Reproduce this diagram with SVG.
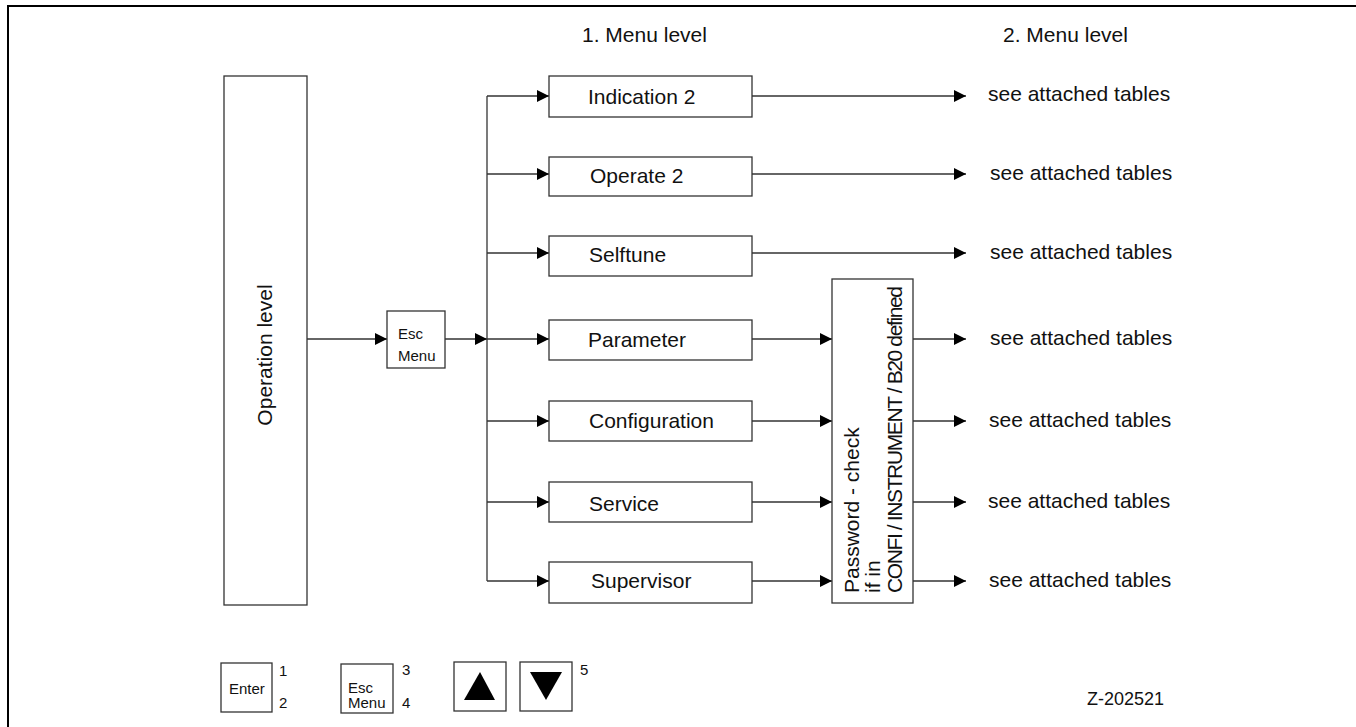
<svg xmlns="http://www.w3.org/2000/svg" width="1356" height="727" viewBox="0 0 1356 727">
<defs>
<marker id="ah" markerUnits="userSpaceOnUse" markerWidth="12" markerHeight="12" refX="12" refY="6" orient="auto">
<path d="M0,0 L12,6 L0,12 z" fill="#000"/>
</marker>
<style>
.b{fill:#fff;stroke:#333;stroke-width:1.3}
.c{fill:none;stroke:#333;stroke-width:1.3}
.a{fill:none;stroke:#333;stroke-width:1.3;marker-end:url(#ah)}
text{font-family:"Liberation Sans",Arial,Helvetica,sans-serif;fill:#111}
.t{font-size:21px}
.s{font-size:15px}
</style>
</defs>
<rect width="1356" height="727" fill="#fff"/>
<path d="M8,727 L8,6 L1356,6" fill="none" stroke="#000" stroke-width="2"/>
<text class="t" x="582" y="42">1. Menu level</text>
<text class="t" x="1003" y="42">2. Menu level</text>
<g id="connectors">
<path class="a" d="M307,339 H387"/>
<path class="a" d="M445,339 H487"/>
<path class="c" d="M487,96 V581"/>
<path class="a" d="M487,96 H549"/>
<path class="a" d="M487,174 H549"/>
<path class="a" d="M487,253 H549"/>
<path class="a" d="M487,339 H549"/>
<path class="a" d="M487,421 H549"/>
<path class="a" d="M487,502 H549"/>
<path class="a" d="M487,581 H549"/>
<path class="a" d="M752,96 H966"/>
<path class="a" d="M752,174 H966"/>
<path class="a" d="M752,253 H966"/>
<path class="a" d="M752,339 H832"/>
<path class="a" d="M752,421 H832"/>
<path class="a" d="M752,502 H832"/>
<path class="a" d="M752,581 H832"/>
<path class="a" d="M913,339 H966"/>
<path class="a" d="M913,421 H966"/>
<path class="a" d="M913,502 H966"/>
<path class="a" d="M913,581 H966"/>
</g>
<g id="operation-level">
<rect class="b" x="224" y="76" width="83" height="529"/>
<text class="t" text-anchor="middle" transform="translate(272,355) rotate(-90)">Operation level</text>
</g>
<g id="esc-menu">
<rect class="b" x="387" y="311" width="58" height="57"/>
<text class="s" x="398" y="339">Esc</text>
<text class="s" x="398" y="361">Menu</text>
</g>
<g id="indication2">
<rect class="b" x="549" y="76" width="203" height="41"/>
<text class="t" x="588" y="104">Indication 2</text>
</g>
<g id="operate2">
<rect class="b" x="549" y="157" width="203" height="39"/>
<text class="t" x="590" y="183">Operate 2</text>
</g>
<g id="selftune">
<rect class="b" x="549" y="236" width="203" height="40"/>
<text class="t" x="589" y="262">Selftune</text>
</g>
<g id="parameter">
<rect class="b" x="549" y="320" width="203" height="40"/>
<text class="t" x="588" y="347">Parameter</text>
</g>
<g id="configuration">
<rect class="b" x="549" y="401" width="203" height="40"/>
<text class="t" x="589" y="428">Configuration</text>
</g>
<g id="service">
<rect class="b" x="549" y="482" width="203" height="40"/>
<text class="t" x="589" y="511">Service</text>
</g>
<g id="supervisor">
<rect class="b" x="549" y="562" width="203" height="41"/>
<text class="t" x="591" y="588">Supervisor</text>
</g>
<g id="password-check">
<rect class="b" x="832" y="279" width="81" height="324"/>
<text class="t" transform="translate(859,593) rotate(-90)">Password - check</text>
<text class="t" transform="translate(880,593) rotate(-90)">if in</text>
<text class="t" transform="translate(902,593) rotate(-90)" textLength="307">CONFI / INSTRUMENT / B20 defined</text>
</g>
<g id="tables">
<text class="t" x="988" y="101">see attached tables</text>
<text class="t" x="990" y="180">see attached tables</text>
<text class="t" x="990" y="259">see attached tables</text>
<text class="t" x="990" y="345">see attached tables</text>
<text class="t" x="989" y="427">see attached tables</text>
<text class="t" x="988" y="508">see attached tables</text>
<text class="t" x="989" y="587">see attached tables</text>
</g>
<g id="key-enter">
<rect class="b" x="221" y="663" width="51" height="49"/>
<text class="s" x="229" y="694">Enter</text>
<text class="s" x="279" y="676">1</text>
<text class="s" x="279" y="708">2</text>
</g>
<g id="key-esc">
<rect class="b" x="341" y="664" width="52" height="49"/>
<text class="s" x="348" y="693">Esc</text>
<text class="s" x="348" y="708">Menu</text>
<text class="s" x="402" y="675">3</text>
<text class="s" x="402" y="708">4</text>
</g>
<g id="key-up">
<rect class="b" x="454" y="662" width="52" height="49"/>
<path d="M480,672 L495,700 L464,700 z" fill="#000"/>
</g>
<g id="key-down">
<rect class="b" x="520" y="662" width="52" height="49"/>
<path d="M530,672 L562,672 L546,700 z" fill="#000"/>
<text class="s" x="580" y="675">5</text>
</g>
<text x="1087" y="705" style="font-size:18px">Z-202521</text>
</svg>
